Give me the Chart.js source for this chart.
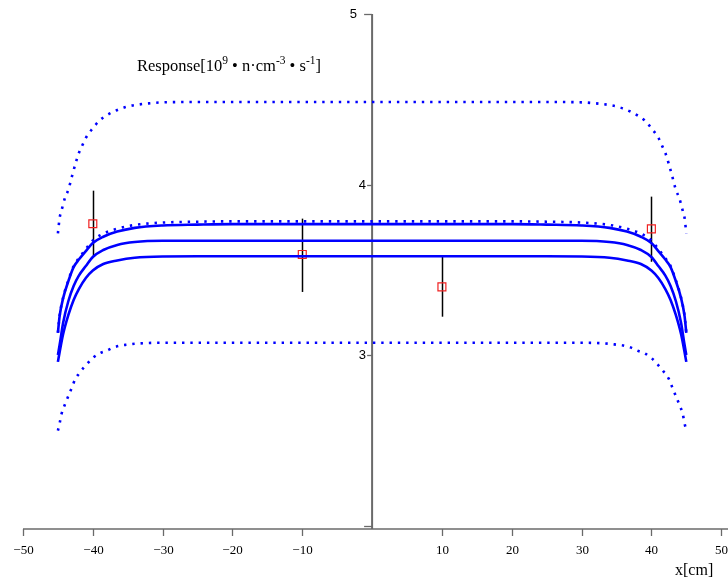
<!DOCTYPE html>
<html>
<head>
<meta charset="utf-8">
<script src="https://cdn.jsdelivr.net/npm/chart.js@4/dist/chart.umd.min.js"></script>
<style>
  html, body { margin: 0; padding: 0; background: #ffffff; }
  #wrap { width: 728px; height: 582px; }
</style>
</head>
<body>
<div id="wrap"><canvas id="c" width="728" height="582"></canvas></div>
<script>
// Positions along the detector (cm)
const solidX = [-45,-44.75,-44.25,-43.5,-42.75,-42,-41,-40,-38.5,-36.5,-34,-30,-25,-20,-10,0,10,20,25,30,34,36.5,38.5,40,41,42,42.75,43.5,44.25,44.75,45];
const responseHigh = [3.13,3.23,3.334,3.434,3.516,3.56,3.61,3.657,3.694,3.724,3.746,3.76,3.765,3.768,3.768,3.768,3.768,3.768,3.765,3.76,3.746,3.724,3.694,3.657,3.61,3.56,3.516,3.434,3.334,3.23,3.13];
const responseMid  = [3.0,3.06,3.19,3.317,3.405,3.466,3.522,3.575,3.616,3.646,3.663,3.67,3.67,3.67,3.67,3.67,3.67,3.67,3.67,3.67,3.663,3.646,3.616,3.575,3.522,3.466,3.405,3.317,3.19,3.06,3.0];
const responseLow  = [2.96,3.018,3.123,3.235,3.323,3.387,3.452,3.496,3.534,3.555,3.571,3.578,3.579,3.579,3.579,3.579,3.579,3.579,3.579,3.578,3.571,3.555,3.534,3.496,3.452,3.387,3.323,3.235,3.123,3.018,2.96];
const boundNear    = [3.131,3.232,3.337,3.439,3.522,3.568,3.622,3.672,3.712,3.741,3.763,3.777,3.782,3.784,3.784,3.784,3.784,3.784,3.782,3.777,3.763,3.741,3.712,3.672,3.622,3.568,3.522,3.439,3.337,3.232,3.131];

const boundX = [-45,-44.75,-44.5,-44,-43.5,-43,-42.5,-42,-41.5,-41,-40,-39,-38,-37,-36,-35,-34,-32,-30,-25,-20,-10,0,10,20,25,30,32,34,35,36,37,38,39,40,41,41.5,42,42.5,43,43.5,44,44.5,44.75,45];
const boundUpper = [3.714,3.805,3.845,3.92,3.97,4.046,4.12,4.185,4.23,4.274,4.33,4.377,4.406,4.428,4.445,4.458,4.466,4.476,4.482,4.484,
                    4.484,4.484,4.484,4.484,4.484,
                    4.484,4.482,4.476,4.466,4.458,4.445,4.428,4.406,4.377,4.33,4.274,4.23,4.185,4.12,4.046,3.97,3.92,3.845,3.805,3.714];
const boundLower = [2.557,2.60,2.652,2.71,2.76,2.81,2.86,2.89,2.917,2.94,2.983,3.011,3.026,3.045,3.056,3.061,3.066,3.071,3.072,3.072,
                    3.072,3.072,3.072,3.072,3.072,
                    3.072,3.072,3.071,3.066,3.061,3.056,3.045,3.026,3.011,2.983,2.94,2.917,2.89,2.86,2.81,2.76,2.71,2.652,2.60,2.557];

// Measured points with error bars
const measX    = [-40, -10, 10, 40];
const measY    = [3.77, 3.59, 3.40, 3.74];
const measLow  = [3.58, 3.37, 3.225, 3.547];
const measHigh = [3.964, 3.80, 3.577, 3.929];

// Axis ticks
const xTicks = [-50,-40,-30,-20,-10,10,20,30,40,50];
const xTickLabels = ['\u221250','\u221240','\u221230','\u221220','\u221210','10','20','30','40','50'];
const yTicks = [5,4,3,2];
const yTickLabels = ['5','4','3',''];

const toPts = (xs, ys) => xs.map((x, i) => ({ x: x, y: ys[i] }));

const BLUE = '#0000ff';
const solidStyle = { showLine: true, borderColor: BLUE, borderWidth: 2.6, pointRadius: 0, fill: false, cubicInterpolationMode: 'monotone' };
const dotStyle = Object.assign({}, solidStyle, { borderWidth: 2.6, borderDash: [2.4, 5.9] });

const axesPlugin = {
  id: 'crossAxes',
  beforeDatasetsDraw(chart) {
    const { ctx, chartArea, scales } = chart;
    const xs = scales.x, ys = scales.y;
    const x0 = xs.getPixelForValue(0);
    const yTop = ys.getPixelForValue(5);
    const yBot = chartArea.bottom;
    ctx.save();
    ctx.strokeStyle = '#6a6a6a';
    // vertical axis
    ctx.lineWidth = 2;
    ctx.beginPath(); ctx.moveTo(x0, yTop); ctx.lineTo(x0, yBot); ctx.stroke();
    // horizontal axis
    ctx.lineWidth = 1.5;
    ctx.beginPath(); ctx.moveTo(xs.getPixelForValue(-50), yBot); ctx.lineTo(chart.width, yBot); ctx.stroke();
    // y ticks: the end values carry a longer tick
    ctx.lineWidth = 1.3;
    ctx.fillStyle = '#000';
    ctx.font = '13px "Liberation Sans", sans-serif';
    ctx.textAlign = 'right';
    ctx.textBaseline = 'middle';
    yTicks.forEach((v, i) => {
      const py = Math.round(ys.getPixelForValue(v)) + 0.5;
      const end = (i === 0 || i === yTicks.length - 1);
      const len = end ? 8 : 5;
      ctx.beginPath(); ctx.moveTo(x0 - len, py); ctx.lineTo(x0, py); ctx.stroke();
      if (yTickLabels[i]) ctx.fillText(yTickLabels[i], end ? x0 - 15 : x0 - 6, py);
    });
    // x ticks
    ctx.font = '13px "Liberation Serif", serif';
    ctx.textAlign = 'center';
    ctx.textBaseline = 'alphabetic';
    xTicks.forEach((v, i) => {
      const px = Math.round(xs.getPixelForValue(v)) + 0.5;
      ctx.beginPath(); ctx.moveTo(px, yBot); ctx.lineTo(px, yBot + 7); ctx.stroke();
      ctx.fillText(xTickLabels[i], px, yBot + 25);
    });
    // error bars
    ctx.strokeStyle = '#000';
    ctx.lineWidth = 1.5;
    measX.forEach((v, i) => {
      const px = Math.round(xs.getPixelForValue(v)) + 0.5;
      ctx.beginPath();
      ctx.moveTo(px, ys.getPixelForValue(measHigh[i]));
      ctx.lineTo(px, ys.getPixelForValue(measLow[i]));
      ctx.stroke();
    });
    ctx.restore();
  },
  afterDraw(chart) {
    const { ctx } = chart;
    ctx.save();
    ctx.fillStyle = '#000';
    ctx.textBaseline = 'alphabetic';
    ctx.textAlign = 'left';
    // axis caption
    ctx.font = '16px "Liberation Serif", serif';
    ctx.fillText('x[cm]', 675, 575);
    // quantity caption with superscripts
    const parts = [
      ['Response[10', 0], ['9', 1], [' \u2022 ', 0], ['n\u00b7cm', 0], ['-3', 1], [' \u2022 ', 0], ['s', 0], ['-1', 1], [']', 0]
    ];
    let x = 137;
    const base = 71;
    parts.forEach(([t, sup]) => {
      ctx.font = sup ? '11.5px "Liberation Serif", serif' : '16.5px "Liberation Serif", serif';
      ctx.fillText(t, x, sup ? base - 7 : base);
      x += ctx.measureText(t).width;
    });
    ctx.restore();
  }
};

new Chart(document.getElementById('c'), {
  type: 'scatter',
  data: {
    datasets: [
      Object.assign({ data: toPts(boundX, boundUpper) }, dotStyle),
      Object.assign({ data: toPts(solidX, boundNear) }, dotStyle),
      Object.assign({ data: toPts(boundX, boundLower) }, dotStyle),
      Object.assign({ data: toPts(solidX, responseHigh) }, solidStyle),
      Object.assign({ data: toPts(solidX, responseMid) }, solidStyle),
      Object.assign({ data: toPts(solidX, responseLow) }, solidStyle),
      {
        data: toPts(measX, measY),
        showLine: false,
        pointStyle: 'rect',
        pointRadius: 5.6,
        pointHoverRadius: 5.6,
        pointBorderWidth: 1.2,
        pointBorderColor: '#f02020',
        pointBackgroundColor: 'rgba(0,0,0,0)'
      }
    ]
  },
  options: {
    responsive: false,
    animation: false,
    events: [],
    layout: { padding: { left: 23, right: 5, top: 14, bottom: 53 } },
    plugins: { legend: { display: false }, tooltip: { enabled: false } },
    scales: {
      x: { type: 'linear', min: -50, max: 50, display: false },
      y: { type: 'linear', min: 1.98, max: 5, display: false }
    }
  },
  plugins: [axesPlugin]
});
</script>
</body>
</html>
